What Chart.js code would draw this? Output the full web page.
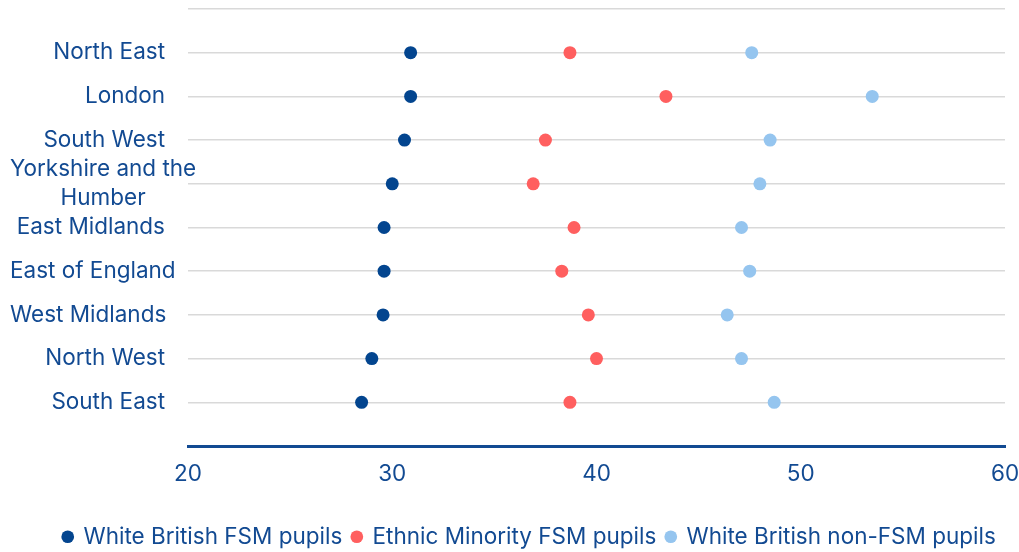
<!DOCTYPE html>
<html><head><meta charset="utf-8">
<script src="https://cdn.jsdelivr.net/npm/chart.js@4"></script>
<style>html,body{margin:0;padding:0;background:#fff}#wrap{width:1019px;height:552px;position:relative}</style>
</head><body><div id="wrap"><canvas id="c"></canvas></div>
<script>
const regions = ['North East','London','South West','Yorkshire and the Humber','East Midlands','East of England','West Midlands','North West','South East'];
const regionLines = [['North East'],['London'],['South West'],['Yorkshire and the','Humber'],['East Midlands'],['East of England'],['West Midlands'],['North West'],['South East']];
const whiteBritishFSM = [30.9,30.9,30.6,30.0,29.6,29.6,29.55,29.0,28.5];
const ethnicMinorityFSM = [38.7,43.4,37.5,36.9,38.9,38.3,39.6,40.0,38.7];
const whiteBritishNonFSM = [47.6,53.5,48.5,48.0,47.1,47.5,46.4,47.1,48.7];
const seriesNames = ['White British FSM pupils','Ethnic Minority FSM pupils','White British non-FSM pupils'];
const xTicks = [20,30,40,50,60];
const yCats = [''].concat(regions, ['']);

const TEXT = '#124a92';
const FONT = 'Inter, "DejaVu Sans", sans-serif';
const FS = 22.5;

const yLabelPlugin = {
  id: 'yLabels',
  afterLayout(chart) {
    const l = chart.legend;
    if (l) { l.left += 20; l.right += 20; }
  },
  afterDraw(chart) {
    const ctx = chart.ctx, s = chart.scales.y;
    ctx.save();
    ctx.font = FS + 'px ' + FONT;
    ctx.fillStyle = TEXT;
    ctx.textAlign = 'center';
    ctx.textBaseline = 'middle';
    const lineH = 29;
    regionLines.forEach((lines, i) => {
      const y = s.getPixelForValue(i + 1);
      const maxW = Math.max(...lines.map(l => ctx.measureText(l).width));
      const left = maxW <= 152 ? 165 - maxW : 10;
      lines.forEach((l, j) => {
        ctx.fillText(l, left + maxW / 2, y + (j - (lines.length - 1) / 2) * lineH);
      });
    });
    ctx.restore();
  }
};

function pts(arr) { return arr.map((v, i) => ({ x: v, y: regions[i] })); }
function ds(label, arr, color) {
  return { label, data: pts(arr), backgroundColor: color, borderColor: color, borderWidth: 0,
    pointRadius: 6.5, pointHoverRadius: 6.5, pointStyle: 'circle', showLine: false };
}

new Chart(document.getElementById('c'), {
  type: 'scatter',
  data: { datasets: [
    ds(seriesNames[0], whiteBritishFSM, '#03458f'),
    ds(seriesNames[1], ethnicMinorityFSM, '#ff5f5f'),
    ds(seriesNames[2], whiteBritishNonFSM, '#95c5ef')
  ]},
  options: {
    responsive: true, maintainAspectRatio: false, animation: false,
    layout: { padding: { top: 9, right: 0, left: 0, bottom: -6 } },
    plugins: {
      tooltip: { enabled: false },
      legend: {
        position: 'bottom',
        labels: { usePointStyle: true, pointStyle: 'circle', boxWidth: 9, boxHeight: 9, padding: 10,
          color: TEXT, font: { family: FONT, size: FS } }
      }
    },
    scales: {
      x: {
        type: 'linear', min: 20, max: 60,
        afterBuildTicks: s => { s.ticks = xTicks.map(v => ({ value: v })); },
        afterFit: s => { s.height = 69.5; s.paddingRight = 14; s.paddingLeft = 0; },
        grid: { display: false, drawTicks: false },
        border: { display: true, color: '#124a92', width: 3 },
        ticks: { color: TEXT, font: { family: FONT, size: FS }, padding: 15 }
      },
      y: {
        type: 'category', labels: yCats, offset: false,
        afterFit: s => { s.width = 188; },
        grid: { color: c => (c.index === yCats.length - 1 ? 'rgba(0,0,0,0)' : '#d9d9d9'), lineWidth: 1.5, drawTicks: false },
        border: { display: false },
        ticks: { display: false }
      }
    }
  },
  plugins: [yLabelPlugin]
});
</script>
</body></html>
